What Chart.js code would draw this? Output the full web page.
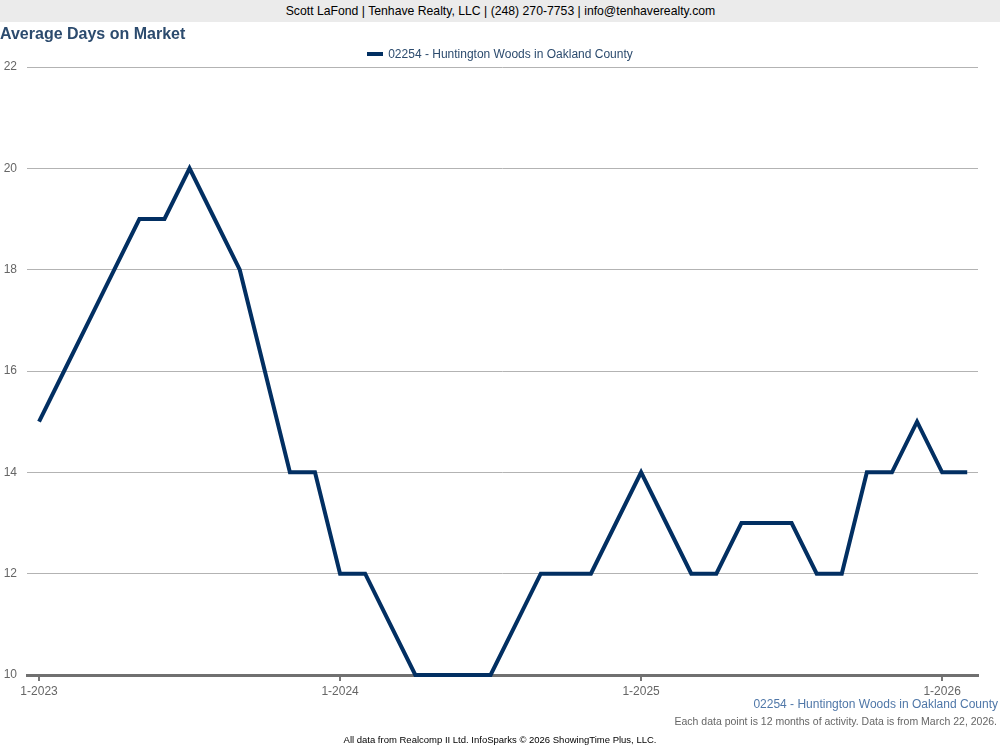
<!DOCTYPE html>
<html>
<head>
<meta charset="utf-8">
<script src="https://cdn.jsdelivr.net/npm/chart.js@4.4.0/dist/chart.umd.min.js"></script>
<style>
  html, body { margin:0; padding:0; background:#fff; }
  body { width:1000px; height:750px; position:relative; overflow:hidden; font-family:"Liberation Sans", Arial, sans-serif; }
  #hdr { position:absolute; left:0; top:0; width:1000px; height:22px; background:#ebebeb; color:#000; font-size:13px; line-height:22px; text-align:center; }
  #hdr span { display:inline-block; transform:scaleX(0.94); }
  #title { position:absolute; left:0; top:25px; font-size:16px; font-weight:bold; color:#2c4b6e; white-space:nowrap; }
  #legend { position:absolute; left:0; top:47px; width:1000px; text-align:center; font-size:12px; color:#2c4b6e; white-space:nowrap; }
  #legend i { display:inline-block; width:16px; height:4px; background:#022f62; vertical-align:middle; margin-right:5px; position:relative; top:-1px; }
  #src { position:absolute; right:2px; top:697px; font-size:12px; color:#4f77a8; white-space:nowrap; }
  #note { position:absolute; right:3px; top:715px; font-size:10.5px; color:#666; white-space:nowrap; }
  #foot { position:absolute; left:0; top:734px; width:1000px; text-align:center; font-size:9.5px; color:#000; white-space:nowrap; }
  #wrap { position:absolute; left:0; top:0; width:1000px; height:750px; }
</style>
</head>
<body>
<div id="wrap"><canvas id="c" width="1000" height="750"></canvas></div>
<div id="hdr"><span>Scott LaFond | Tenhave Realty, LLC | (248) 270-7753 | info@tenhaverealty.com</span></div>
<div id="title">Average Days on Market</div>
<div id="legend"><i></i>02254 - Huntington Woods in Oakland County</div>
<div id="src">02254 - Huntington Woods in Oakland County</div>
<div id="note">Each data point is 12 months of activity. Data is from March 22, 2026.</div>
<div id="foot">All data from Realcomp II Ltd. InfoSparks © 2026 ShowingTime Plus, LLC.</div>
<script>
// Months from 1-2023 (index 0) to 2-2026 (index 37)
const seriesName = "02254 - Huntington Woods in Oakland County";
const daysOnMarket = [
  15, 16, 17, 18, 19, 19, 20, 19, 18, 16, 14, 14,   // 2023
  12, 12, 11, 10, 10, 10, 10, 11, 12, 12, 12, 13,   // 2024
  14, 13, 12, 12, 13, 13, 13, 12, 12, 14, 14, 15,   // 2025
  14, 14                                            // 2026
];
const yearTickIndex = [0, 12, 24, 36];
const yearTickLabels = ["1-2023", "1-2024", "1-2025", "1-2026"];
const yTicks = [10, 12, 14, 16, 18, 20, 22];

const points = daysOnMarket.map((v, i) => ({ x: i, y: v }));

new Chart(document.getElementById('c'), {
  type: 'line',
  data: {
    datasets: [{
      label: seriesName,
      data: points,
      borderColor: '#022f62',
      borderWidth: 4,
      pointRadius: 0,
      pointHoverRadius: 0,
      tension: 0,
      fill: false,
      clip: false
    }]
  },
  options: {
    responsive: false,
    animation: false,
    events: [],
    layout: { padding: { top: 67, right: 22, left: 0, bottom: 0 } },
    plugins: { legend: { display: false }, tooltip: { enabled: false }, title: { display: false } },
    scales: {
      x: {
        type: 'linear',
        min: -0.48,
        max: 37.43,
        afterBuildTicks: (s) => { s.ticks = yearTickIndex.map(v => ({ value: v })); },
        afterFit: (s) => { s.height = 75; },
        ticks: {
          autoSkip: false,
          maxRotation: 0,
          color: '#666',
          font: { family: 'Liberation Sans', size: 12 },
          padding: 3,
          callback: (v) => { const k = yearTickIndex.indexOf(v); return k >= 0 ? yearTickLabels[k] : ''; }
        },
        grid: { drawOnChartArea: false, drawTicks: true, tickLength: 6, color: '#777', lineWidth: 2 },
        border: { display: true, color: '#707070', width: 3 }
      },
      y: {
        min: 10,
        max: 22,
        afterBuildTicks: (s) => { s.ticks = yTicks.map(v => ({ value: v })); },
        afterFit: (s) => { s.width = 27; },
        ticks: {
          color: '#666',
          font: { family: 'Liberation Sans', size: 12 },
          padding: 10
        },
        grid: { color: '#b3b3b3', lineWidth: 1, drawTicks: false },
        border: { display: false }
      }
    }
  }
});
</script>
</body>
</html>
